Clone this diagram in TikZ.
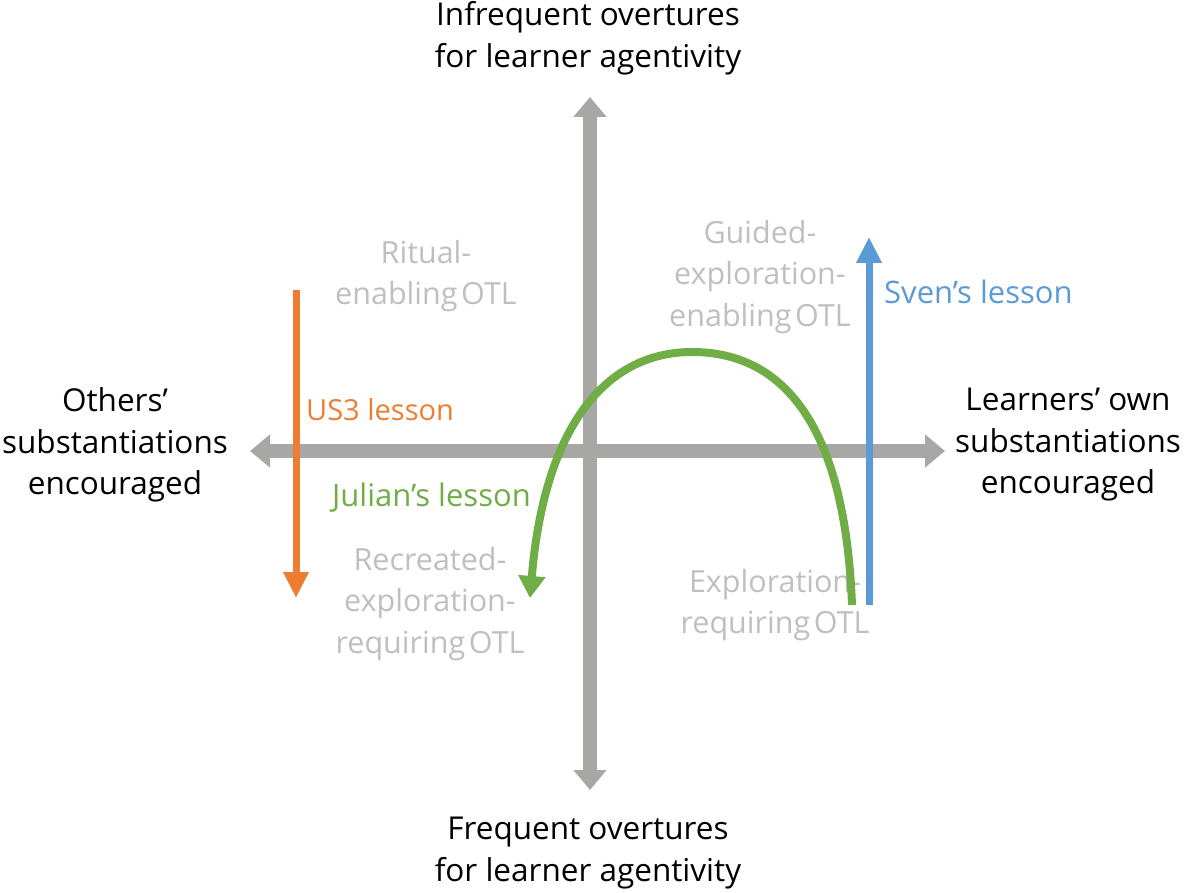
\documentclass[tikz,border=0pt]{standalone}
\usepackage{fontspec}
\setmainfont{Open Sans}
\usetikzlibrary{arrows.meta}
\definecolor{axisgray}{HTML}{A9A6A6}
\definecolor{lblgray}{HTML}{BFBFBF}
\definecolor{orng}{HTML}{ED7D31}
\definecolor{blu}{HTML}{5B9BD5}
\definecolor{grn}{HTML}{70AD47}
\newcommand{\tightwords}{\spaceskip=0.12em\relax}
\tikzset{
  axis/.style={draw=axisgray,line width=14pt,-{Triangle[width=32pt,length=20pt]}},
  lesson/.style={line width=7pt,-{Triangle[width=24pt,length=26pt]}},
  txt/.style={font=\fontsize{31.5}{41.5}\selectfont,align=center,inner sep=0pt,text=black},
  ltxt/.style={font=\fontsize{31}{41.5}\selectfont,align=center,inner sep=0pt},
  glabel/.style={font=\fontsize{30.5}{41.5}\selectfont\tightwords,align=center,inner sep=0pt,text=lblgray},
}
\begin{document}
\begin{tikzpicture}[x=1pt,y=-1pt]
\useasboundingbox (0,0) rectangle (1200,893);
% axes
\coordinate (vt) at (590,97);
\coordinate (vb) at (590,790);
\coordinate (hl) at (250,451);
\coordinate (hr) at (945,451);
\coordinate (c) at (590,451);
\draw[axis] (c) -- (vt);
\draw[axis] (c) -- (vb);
\draw[axis] (c) -- (hl);
\draw[axis] (c) -- (hr);
% axis labels
\node[txt] (top) at (588,38) {Infrequent overtures\\for learner agentivity};
\node[txt] (bot) at (588,853) {Frequent overtures\\for learner agentivity};
\node[txt] (left) at (115,445) {Others’\\substantiations\\encouraged};
\node[txt] (right) at (1068,445) {Learners’ own\\substantiations\\encouraged};
% quadrant labels
\node[glabel] (ritual) at (426,276) {Ritual-\\enabling OTL};
\node[glabel] (guided) at (760,277) {Guided-\\exploration-\\enabling OTL};
\node[glabel] (recreated) at (430,604) {Recreated-\\exploration-\\requiring OTL};
\node[glabel] (explreq) at (775,605) {Exploration-\\requiring OTL};
% lessons
\coordinate (os) at (296,290);
\coordinate (oe) at (296,598);
\draw[lesson,draw=orng,fill=orng] (os) -- (oe);
\coordinate (bs) at (869,605);
\coordinate (be) at (869,237);
\draw[lesson,draw=blu,fill=blu] (bs) -- (be);
\coordinate (gs) at (852,605);
\coordinate (gp) at (692,352);
\coordinate (ge) at (530,598);
\draw[line width=8pt,draw=grn,-{Triangle[width=26pt,length=22pt]}] (gs) .. controls (845,420) and (780,352) .. (gp) .. controls (610,352) and (545,420) .. (ge);
\node[ltxt,text=orng,anchor=west,font=\fontsize{29}{41.5}\selectfont] (us3) at (306,410) {US3 lesson};
\node[ltxt,text=grn,anchor=east] (jul) at (531,498) {Julian’s lesson};
\node[ltxt,text=blu,anchor=west] (sven) at (884,292) {Sven’s lesson};
\end{tikzpicture}
\end{document}
